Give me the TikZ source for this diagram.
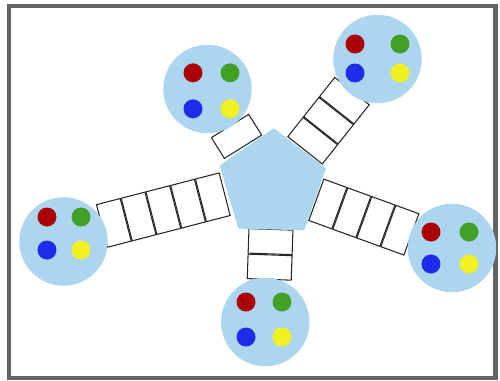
\documentclass[tikz,border=0pt]{standalone}
\usepackage{xcolor}
\usepackage{tikz}
\usetikzlibrary{shapes.geometric, positioning}
\definecolor{mysky}{RGB}{172,213,240}
\definecolor{myframe}{RGB}{100,100,100}
\definecolor{myred}{RGB}{172,0,8}
\definecolor{mygreen}{RGB}{65,160,40}
\definecolor{myblue}{RGB}{30,45,235}
\definecolor{myyellow}{RGB}{240,240,35}
\tikzset{
  hub/.style={regular polygon, regular polygon sides=5, fill=mysky,
    minimum size=2.24cm, inner sep=0pt, rotate=-1.5},
  client/.style={circle, fill=mysky, minimum size=1.77cm, inner sep=0pt},
  cell/.style={rectangle, draw=black!85, fill=white, minimum width=0.49cm,
    minimum height=0.88cm, inner sep=0pt, line width=0.6pt},
  dot/.style={circle, minimum size=0.38cm, inner sep=0pt},
  boxframe/.style={draw=myframe, line width=2.5pt}
}

\begin{document}
\begin{tikzpicture}[x=0.02cm, y=0.02cm]
  \useasboundingbox (0,0) rectangle (500,380);
  \draw[boxframe] (9,2) rectangle (495.5,374.2);

  % queues
  \foreach \arm/\sx/\sy/\ang/\num in {qC/225.5/186/194.5/5, qA/243.5/232.5/122/1,
      qB/304.5/229/51.6/3, qD/315.5/180.5/-20/4, qE/271/151.5/-92/2}{
    \node[inner sep=0pt, minimum size=0pt, rotate=\ang] (\arm-0) at (\sx,\sy) {};
    \foreach \k [remember=\k as \prev (initially 0)] in {1,...,\num}
      \node[cell, rotate=\ang, anchor=west] (\arm-\k) at (\arm-\prev.east) {};
  }

  \node[hub] (server) at (272.4,195.8) {};

  % clients
  \foreach \n/\cx/\cy/\mx/\my/\hx/\hy in {cA/207.5/291/211.5/289.2/18.5/18,
      cB/377.5/321/377.5/321.5/22.5/14.5, cC/63.5/138.5/64/146.5/17/16.5,
      cD/452/132/450/132/19/16, cE/265.3/58/264/60.5/18/17.5}{
    \node[client] (\n) at (\cx,\cy) {};
    \coordinate (\n-m) at (\mx,\my);
    \foreach \c/\t/\dx/\dy in {myred/r/-1/1, mygreen/g/1/1, myblue/b/-1/-1, myyellow/y/1/-1}
      \node[dot, fill=\c] (\n-\t) at ([shift={(\dx*\hx,\dy*\hy)}]\n-m) {};
  }
\end{tikzpicture}
\end{document}
